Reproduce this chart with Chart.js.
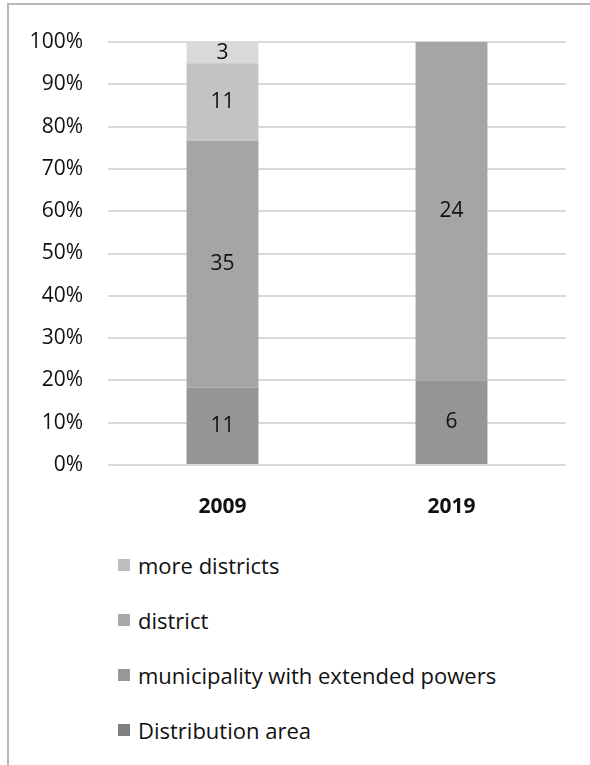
<!DOCTYPE html>
<html>
<head>
<meta charset="utf-8">
<script src="https://cdn.jsdelivr.net/npm/chart.js@4"></script>
<style>
  body { margin: 0; background: #fff; width: 590px; height: 765px; overflow: hidden; position: relative; font-family: "Open Sans", sans-serif; }
  #frame { position: absolute; left: 7px; top: 3px; right: 0; bottom: 0; border-top: 2px solid #b8b8b8; border-left: 2px solid #b8b8b8; }
  #wrap { position: absolute; left: 0; top: 0; width: 590px; height: 530px; }
  #legend { position: absolute; left: 118px; top: 537px; }
  .item { display: flex; align-items: center; height: 55px; font-size: 22px; color: #111; }
  .item span.sw { width: 12px; height: 12px; margin-right: 8px; display: inline-block; }
</style>
</head>
<body>
<div id="frame"></div>
<div id="wrap"><canvas id="barChart" width="590" height="530"></canvas></div>
<div id="legend"></div>
<script>
const years = ["2009", "2019"];
const distributionArea = [11, 6];
const municipality = [35, 24];
const district = [11, 0];
const moreDistricts = [3, 0];
const yTicks = [0, 10, 20, 30, 40, 50, 60, 70, 80, 90, 100];

const series = [
  { label: "Distribution area", counts: distributionArea, color: "#959595", legendColor: "#808080" },
  { label: "municipality with extended powers", counts: municipality, color: "#a5a5a5", legendColor: "#989898" },
  { label: "district", counts: district, color: "#c3c3c3", legendColor: "#a8a8a8" },
  { label: "more districts", counts: moreDistricts, color: "#d9d9d9", legendColor: "#bdbdbd" }
];

const totals = years.map((y, i) => series.reduce((s, d) => s + d.counts[i], 0));

const valueLabels = {
  id: "valueLabels",
  afterDatasetsDraw(chart) {
    const ctx = chart.ctx;
    ctx.save();
    ctx.font = "21px 'Open Sans'";
    ctx.fillStyle = "#111";
    ctx.textAlign = "center";
    ctx.textBaseline = "middle";
    chart.data.datasets.forEach((ds, di) => {
      chart.getDatasetMeta(di).data.forEach((bar, i) => {
        const n = ds.counts[i];
        if (!n) return;
        const mid = (bar.y + bar.base) / 2;
        ctx.fillText(String(n), bar.x, mid);
      });
    });
    ctx.restore();
  }
};

const chart = new Chart(document.getElementById("barChart").getContext("2d"), {
  type: "bar",
  data: {
    labels: years,
    datasets: series.map(s => ({
      label: s.label,
      counts: s.counts,
      data: s.counts.map((v, i) => v / totals[i] * 100),
      backgroundColor: s.color,
      borderWidth: 0,
      categoryPercentage: 1,
      barPercentage: 0.314
    }))
  },
  options: {
    responsive: false,
    animation: false,
    layout: { padding: { top: 42, right: 24, bottom: 0, left: 0 } },
    plugins: { legend: { display: false }, tooltip: { enabled: false } },
    scales: {
      x: {
        stacked: true,
        afterFit: axis => { axis.height = 65; },
        grid: { display: false },
        border: { display: false },
        ticks: { color: "#111", font: { family: "Open Sans", size: 21, weight: "bold" }, padding: 21 }
      },
      y: {
        stacked: true,
        min: 0,
        max: 100,
        afterBuildTicks: axis => { axis.ticks = yTicks.map(v => ({ value: v })); },
        afterFit: axis => { axis.width = 108; },
        grid: { color: "#d9d9d9", lineWidth: 2, drawTicks: false },
        border: { display: false },
        ticks: { color: "#111", font: { family: "Open Sans", size: 21 }, padding: 25, callback: v => v + "%" }
      }
    }
  },
  plugins: [valueLabels]
});

const legend = document.getElementById("legend");
series.slice().reverse().forEach(s => {
  const row = document.createElement("div");
  row.className = "item";
  const sw = document.createElement("span");
  sw.className = "sw";
  sw.style.background = s.legendColor;
  row.appendChild(sw);
  row.appendChild(document.createTextNode(s.label));
  legend.appendChild(row);
});
</script>
</body>
</html>
